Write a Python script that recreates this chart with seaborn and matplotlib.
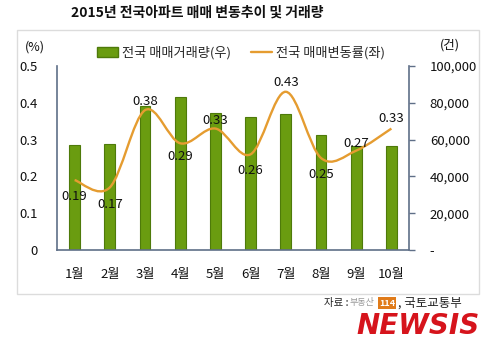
import numpy as np
import pandas as pd
import matplotlib
matplotlib.use("Agg")
import matplotlib.pyplot as plt
from matplotlib.path import Path
from matplotlib.patches import PathPatch, Rectangle
from matplotlib.lines import Line2D
from matplotlib.ticker import FuncFormatter
import seaborn as sns

months = ["1월", "2월", "3월", "4월", "5월", "6월", "7월", "8월", "9월", "10월"]
volume = [57000, 57600, 78300, 83300, 74500, 72300, 74000, 62500, 56500, 56500]
rate = [0.19, 0.17, 0.38, 0.29, 0.33, 0.26, 0.43, 0.25, 0.27, 0.33]
left_ticks = [0, 0.1, 0.2, 0.3, 0.4, 0.5]
right_ticks = [0, 20000, 40000, 60000, 80000, 100000]

sns.set_theme(style="white")
plt.rcParams["font.family"] = ["Noto Sans CJK KR", "DejaVu Sans"]

BAR = "#6a9c10"
BAR_EDGE = "#4e7a0a"
LINE = "#e59c30"
SPINE = "#5f6f88"

fig = plt.figure(figsize=(4.99, 3.59), dpi=100)
fig.patch.set_facecolor("white")
fig.patches.append(Rectangle((17/499, 1-294/359), 462/499, 264/359,
                             transform=fig.transFigure, fill=False,
                             edgecolor="#dcdcdc", linewidth=1.0, zorder=0))

ax = fig.add_axes([57/499, 1-250/359, 352/499, 184/359])
df = pd.DataFrame({"month": months, "volume": volume})
sns.barplot(data=df, x="month", y="volume", ax=ax, color=BAR, width=0.31,
            edgecolor=BAR_EDGE, linewidth=0.8, saturation=1)
ax.set_xlim(-0.5, 9.5)
ax.set_ylim(0, 100000)
ax.set_xlabel("")
ax.set_ylabel("")

ax2 = ax.twinx()

# bars (ax) use the right-hand scale, the line (ax2) the left-hand scale
ax.yaxis.tick_right()
ax.yaxis.set_label_position("right")
ax.set_yticks(right_ticks)
ax.yaxis.set_major_formatter(FuncFormatter(lambda v, p: "-" if v == 0 else f"{int(v):,}"))
ax.tick_params(axis="y", which="major", left=False, right=True, labelleft=False,
               labelright=True, length=4, width=1, color=SPINE, pad=11,
               labelsize=9.5, labelcolor="#111111")
ax.tick_params(axis="x", length=0, pad=13, labelsize=9.5, labelcolor="#111111")
ax.spines["top"].set_visible(False)
ax.spines["left"].set_visible(False)
ax.spines["right"].set_color(SPINE)
ax.spines["bottom"].set_color(SPINE)
ax.spines["right"].set_linewidth(1.2)
ax.spines["bottom"].set_linewidth(1.2)

ax2.set_ylim(0, 0.5)
ax2.yaxis.tick_left()
ax2.set_yticks(left_ticks)
ax2.yaxis.set_major_formatter(FuncFormatter(lambda v, p: "0" if v == 0 else f"{v:.1f}"))
ax2.tick_params(axis="y", left=False, right=False, labelleft=True, labelright=False,
                length=0, pad=14, labelsize=9.5, labelcolor="#111111")
for s in ["top", "right", "bottom"]:
    ax2.spines[s].set_visible(False)
ax2.spines["left"].set_color(SPINE)
ax2.spines["left"].set_linewidth(1.2)

# smooth (Excel-style) line through the rate points
x = np.arange(len(rate), dtype=float)
y = np.array(rate, dtype=float)
verts = [(x[0], y[0])]
codes = [Path.MOVETO]
n = len(x)
for i in range(n - 1):
    p0 = (x[i-1], y[i-1]) if i > 0 else (x[i], y[i])
    p1 = (x[i], y[i])
    p2 = (x[i+1], y[i+1])
    p3 = (x[i+2], y[i+2]) if i + 2 < n else (x[i+1], y[i+1])
    c1 = (p1[0] + (p2[0]-p0[0])/6, p1[1] + (p2[1]-p0[1])/6)
    c2 = (p2[0] - (p3[0]-p1[0])/6, p2[1] - (p3[1]-p1[1])/6)
    verts += [c1, c2, p2]
    codes += [Path.CURVE4]*3
ax2.add_patch(PathPatch(Path(verts, codes), fill=False, edgecolor=LINE, linewidth=1.7, zorder=3))

offsets = [-16, -17, 9, -13, 8, -16, 9, -16, 7, 10]
for xi, yi, off in zip(x, y, offsets):
    ax2.annotate(f"{yi:.2f}", (xi, yi), xytext=(0, off), textcoords="offset pixels",
                 ha="center", va="center", fontsize=9.5, color="#111111", zorder=5)

# legend
handles = [Rectangle((0, 0), 1, 1, facecolor=BAR, edgecolor=BAR_EDGE),
           Line2D([0], [0], color=LINE, linewidth=1.7)]
fig.legend(handles, ["전국 매매거래량(우)", "전국 매매변동률(좌)"], loc="center",
           bbox_to_anchor=(241/499, 1-53/359), ncol=2, frameon=False, fontsize=9.5,
           handlelength=1.6, handletextpad=0.3, columnspacing=1.5)

fig.text(35/499, 1-47/359, "(%)", ha="center", va="center", fontsize=9, color="#111111")
fig.text(450/499, 1-45/359, "(건)", ha="center", va="center", fontsize=9, color="#111111")
fig.text(197/499, 1-13/359, "2015년 전국아파트 매매 변동추이 및 거래량", ha="center",
         va="center", fontsize=10, fontweight="bold", color="#111111")

fig.text(348/499, 1-303/359, "자료 :", ha="right", va="center", fontsize=7.5, color="#222222")
fig.text(350/499, 1-303/359, "부동산", ha="left", va="center", fontsize=6.5, color="#999999")
fig.text(379/499, 1-303/359, "114", ha="left", va="center", fontsize=6.5, color="white",
         fontweight="bold", bbox=dict(boxstyle="square,pad=0.15", facecolor="#e07b1a", edgecolor="none"))
fig.text(398/499, 1-303/359, ", 국토교통부", ha="left", va="center", fontsize=9, color="#222222")
fig.text(480/499, 1-326/359, "NEWSIS", ha="right", va="center", fontsize=20,
         fontweight="heavy", fontstyle="italic", color="#d6141c", family="DejaVu Sans")

fig.savefig("out.png", dpi=100, facecolor="white")
